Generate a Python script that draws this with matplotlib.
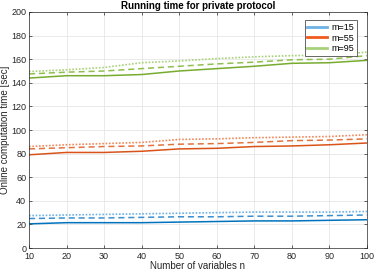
import matplotlib
matplotlib.use('Agg')
import matplotlib.pyplot as plt
import numpy as np

plt.rcParams['font.family'] = ['Liberation Sans', 'DejaVu Sans']

n = [10, 20, 30, 40, 50, 60, 70, 80, 90, 100]

# m = 15
m15_solid = [20.5, 21.5, 21.5, 21.5, 22, 22.5, 23, 23, 23.5, 24]
m15_dash = [25, 25.5, 25.5, 26, 26.5, 26.5, 27, 27, 27.5, 28]
m15_dot = [27.5, 28, 28.5, 29, 29.5, 30, 30.5, 30.5, 30.5, 31]
# m = 55
m55_solid = [79, 81, 81, 82, 84, 84.5, 86, 86.5, 87.5, 89]
m55_dash = [84, 85, 86, 86.5, 88, 88.5, 89.5, 91, 91.5, 92.5]
m55_dot = [86, 87.5, 88.5, 89.5, 92, 92.5, 93.5, 94, 94.5, 96]
# m = 95
m95_solid = [144, 146, 146, 147, 150, 152, 154, 156.5, 157, 159]
m95_dash = [147.5, 149, 150, 152, 154, 156, 157.5, 159.5, 160, 163]
m95_dot = [149.5, 151, 153, 157, 158.5, 160.5, 162, 163, 163.5, 166]

labels = ['m=15', 'm=55', 'm=95']
dark = ['#0072BD', '#D95319', '#77AC30']
mid = ['#3a8fd0', '#e2733f', '#8fbf4f']
light = ['#6fb2e6', '#f08a5d', '#a8d27a']

gray = '#262626'
fig = plt.figure(figsize=(3.74, 2.72), dpi=100)
ax = fig.add_axes([0.0775, 0.088, 0.9035, 0.868])

groups = [(m15_solid, m15_dash, m15_dot),
          (m55_solid, m55_dash, m55_dot),
          (m95_solid, m95_dash, m95_dot)]
handles = []
for i, (s, d, o) in enumerate(groups):
  ax.plot(n, s, color=dark[i], lw=1.1)
  ax.plot(n, d, color=mid[i], lw=1.1, ls=(0, (4, 2.5)))
  ax.plot(n, o, color=light[i], lw=1.2, ls=(0, (1, 1)))
  h, = ax.plot([], [], color=light[i] if i != 1 else '#f05a1e', lw=2, label=labels[i])
  handles.append(h)

ax.set_xlim(10, 100)
ax.set_ylim(0, 200)
ax.set_xticks(range(10, 101, 10))
ax.set_yticks(range(0, 201, 20))
ax.grid(True, color='#e6e6e6', lw=0.6)
ax.set_axisbelow(True)
ax.tick_params(labelsize=6.5, colors=gray, length=2, width=0.5, direction='in',
               top=True, right=True, pad=2)
ax.tick_params(axis='x', pad=3)
for sp in ax.spines.values():
  sp.set_color(gray)
  sp.set_linewidth(0.5)

ax.set_xlabel('Number of variables n', fontsize=7, color=gray, labelpad=0)
ax.set_ylabel('Online computation time [sec]', fontsize=7, color=gray, labelpad=1)
ax.set_title('Running time for private protocol', fontsize=7, fontweight='bold',
             color='black', pad=2)

leg = ax.legend(handles=handles, loc='upper right', fontsize=6.5, fancybox=False,
                framealpha=1, edgecolor='#4d4d4d', handlelength=2.2,
                borderpad=0.3, labelspacing=0.2, handletextpad=0.5,
                bbox_to_anchor=(0.985, 0.985))
leg.get_frame().set_linewidth(0.6)

plt.savefig('out.png', dpi=100)
